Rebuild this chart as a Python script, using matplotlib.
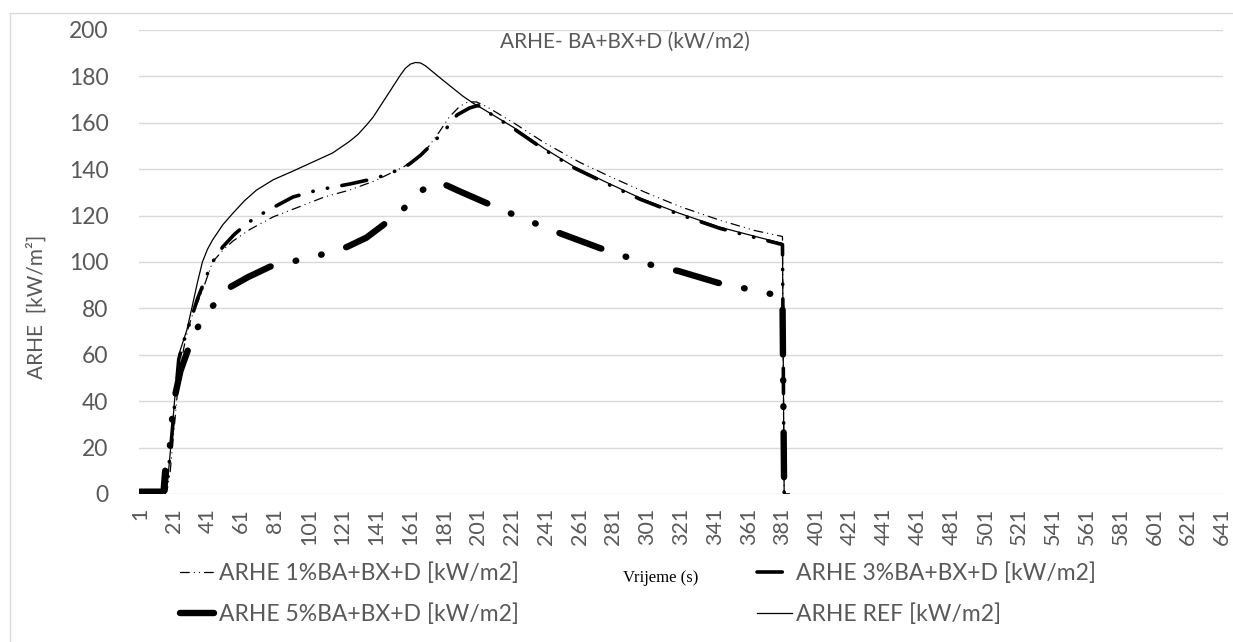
import numpy as np
import matplotlib
matplotlib.use("Agg")
import matplotlib.pyplot as plt
from matplotlib.patches import Rectangle

plt.rcParams['font.family'] = ['Lato', 'DejaVu Sans']

# Vrijeme (s) -> ARHE (kW/m2), vrijednosti ocitane s grafa
x_ref = [1, 15, 17, 19, 21.5, 24, 28.8, 32, 35, 38, 41, 44, 50, 56, 63, 70, 80, 91, 103, 115,
         125, 130, 135, 139, 143, 147, 151, 155, 158, 161, 164, 167, 170, 175, 180, 186, 192,
         198, 205, 222, 240, 258, 275, 297, 320, 344, 365, 381, 382, 385]
y_ref = [0, 0.5, 2, 18, 40, 60, 70.7, 81, 91, 100, 105.5, 109.5, 116, 121, 126.5, 131, 135.5, 139,
         143, 147, 152, 155, 159, 162.5, 167, 171.5, 176, 180.5, 183.5, 185.3, 186, 185.8, 184.5,
         181.5, 178.5, 175, 171.5, 168.5, 165.5, 158, 149, 141, 135, 127.5, 121, 115, 111, 108, 0, 0]

x_1 = [1, 15, 17, 19, 21.5, 24, 27, 29.4, 32, 37.7, 44, 50, 56, 66, 80, 96, 110, 125, 140, 157,
       165, 172, 178, 184, 190, 195, 200, 206, 222, 240, 261, 280, 300, 320, 344, 365, 381, 382, 385]
y_1 = [0, 0, 1, 10, 30, 50, 63, 71, 77, 87, 100, 105, 109, 114, 119.5, 124, 128, 131, 135, 141,
       145, 150, 156, 162.5, 167, 169, 169, 167, 160, 151.5, 143, 136.5, 130, 124, 118, 113.5, 111, 0, 0]

x_3 = [1, 15, 17, 19, 21.5, 24, 27, 32, 35, 41, 44, 50, 57, 65, 76, 91.5, 106, 125, 140, 150,
       160, 167, 172.6, 182.7, 188.6, 196, 201, 206, 222, 240, 258, 275, 297, 320, 344, 365, 381, 382, 385]
y_3 = [0, 1, 4, 18, 38, 58, 66, 77, 84, 95, 100, 106.5, 112, 117, 122, 128, 131, 133.6, 136, 138.5,
       142, 146, 150, 158, 163.4, 166.4, 167.5, 165, 157.5, 148.5, 140.5, 134.5, 127, 120.5, 114.5,
       110.5, 107.5, 0, 0]

x_5 = [1, 15, 16, 18.7, 20, 21.7, 25, 29.4, 35, 43.6, 54, 65, 78, 93, 107.5, 123.5, 135, 145,
       157, 168, 178, 190, 206, 225, 249, 273, 302, 320, 343, 372, 381, 382, 385]
y_5 = [1, 1, 10, 20, 32, 42, 53, 62, 71.6, 80.6, 89, 93.5, 98, 100.5, 103, 106.5, 110.5, 116,
       123, 131, 134.5, 130.5, 125.4, 119.5, 112.5, 106, 99, 96, 91, 86.6, 85, 0, 0]

labels = ['ARHE 1%BA+BX+D [kW/m2]', 'ARHE 3%BA+BX+D [kW/m2]',
          'ARHE 5%BA+BX+D [kW/m2]', 'ARHE REF [kW/m2]']
x_ticks = list(range(1, 642, 20))
y_ticks = list(range(0, 201, 20))

gray = '#595959'
dd = (7, 4, 0.1, 4, 0.1, 4)   # duga crta - tocka - tocka

fig = plt.figure(figsize=(12.33, 6.42), dpi=100)
ax = fig.add_axes([139 / 1233, 148 / 642, 1084 / 1233, 464 / 642])

l1, = ax.plot(x_1, y_1, color='black', lw=0.9, dashes=dd, dash_capstyle='round', label=labels[0])
l3, = ax.plot(x_3, y_3, color='black', lw=2.6, dashes=dd, dash_capstyle='round', label=labels[1])
l5, = ax.plot(x_5, y_5, color='black', lw=4.6, dashes=dd, dash_capstyle='round', label=labels[2])
lr, = ax.plot(x_ref, y_ref, color='black', lw=0.9, label=labels[3])

ax.set_xlim(0.5, 641.5)
ax.set_ylim(0, 200)
ax.set_xticks(x_ticks)
ax.set_xticklabels([str(t) for t in x_ticks], rotation=90, fontsize=15.5, color=gray)
ax.set_yticks(y_ticks)
ax.set_yticklabels([str(t) for t in y_ticks], fontsize=16.5, color=gray)
ax.tick_params(length=0)
ax.tick_params(axis='x', pad=10)
ax.tick_params(axis='y', pad=22)
for s in ax.spines.values():
    s.set_visible(False)
ax.grid(axis='y', color='#d9d9d9', lw=1.0)
ax.set_axisbelow(True)

fig.text(625 / 1233, 1 - 42 / 642, 'ARHE- BA+BX+D (kW/m2)', ha='center', va='center',
         fontsize=15, color=gray)
fig.text(37 / 1233, 1 - 307 / 642, 'ARHE  [kW/m²]', ha='center', va='center',
         rotation=90, fontsize=15, color=gray)
fig.text(661 / 1233, 1 - 578 / 642, 'Vrijeme (s)', ha='center', va='center',
         fontsize=12, family='Liberation Serif', color='black')

leg = fig.legend([l1, l5, l3, lr], [labels[0], labels[2], labels[1], labels[3]],
                 ncol=2, loc='upper left', bbox_to_anchor=(180 / 1233, 1 - 562 / 642),
                 frameon=False, fontsize=16.5, handlelength=1.5, handletextpad=0.2,
                 columnspacing=10.4, labelspacing=0.85, borderpad=0, borderaxespad=0)
for t in leg.get_texts():
    t.set_color(gray)

fig.patches.append(Rectangle((10 / 1233, -0.1), 1.2, 1.1 - 13 / 642, transform=fig.transFigure,
                             fill=False, edgecolor='#d9d9d9', lw=1.0))

fig.savefig('out.png', dpi=100)
